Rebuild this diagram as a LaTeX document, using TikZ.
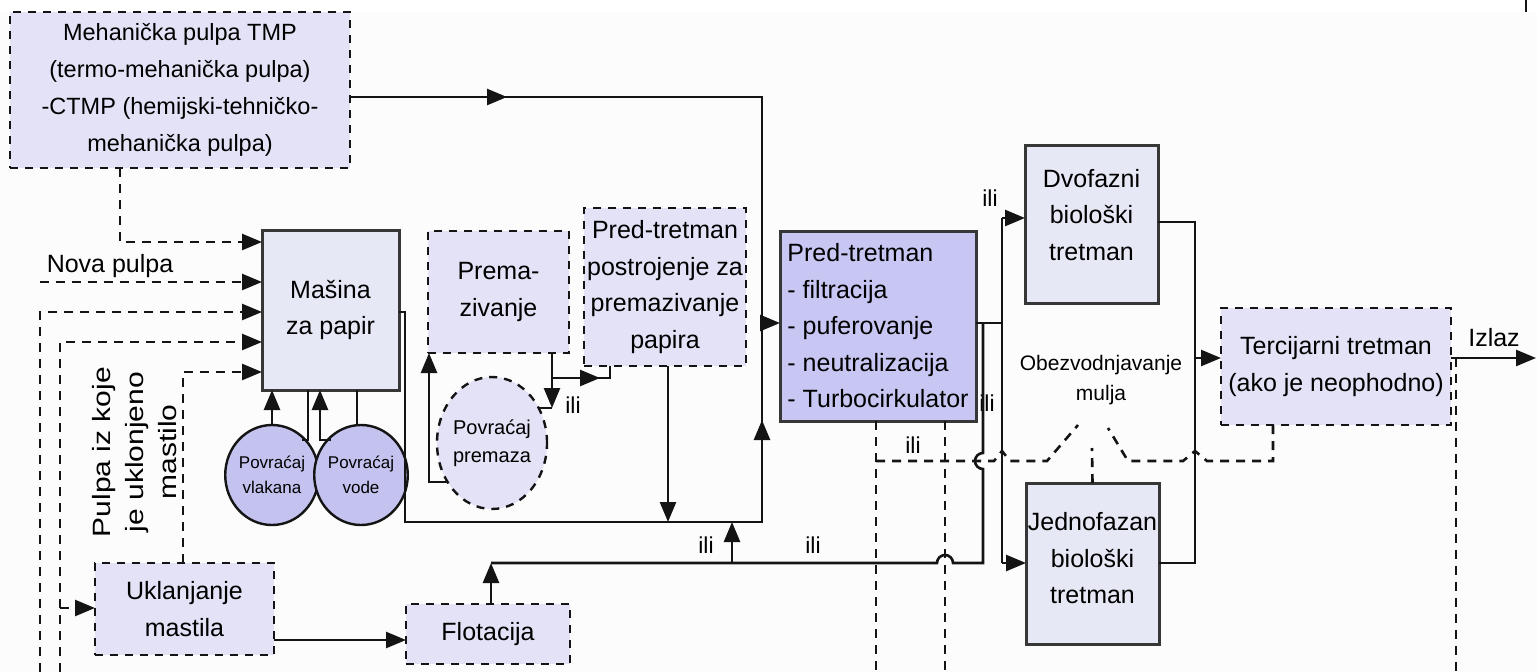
\documentclass[tikz,border=0pt]{standalone}
\usepackage{fontspec}
\setmainfont{Liberation Sans}
\newfontfamily\tallsans{Liberation Sans}[FakeStretch=1.2]
\usetikzlibrary{arrows.meta,shapes.geometric,decorations.markings}

\definecolor{lavlight}{HTML}{E3E2F6}
\definecolor{bluegray}{HTML}{E6E8F5}
\definecolor{lavmid}{HTML}{C8C7F3}
\definecolor{lavoval}{HTML}{C4C3F0}
\definecolor{ink}{HTML}{141414}
\definecolor{paper}{HTML}{FCFCFC}

\newcommand\txtL{\fontsize{25}{36.5}\selectfont}
\newcommand\txtT{\fontsize{23.5}{37}\selectfont}
\newcommand\txtM{\fontsize{21}{30}\selectfont}
\newcommand\txtS{\fontsize{17}{25}\selectfont}
\newcommand\txtP{\fontsize{20}{28}\selectfont}
\newcommand\txtI{\fontsize{23}{28}\selectfont}
\newcommand\txtR{\tallsans\fontsize{25}{33}\selectfont}

\tikzset{
  stagebox/.style={rectangle, inner sep=0pt, outer sep=0pt, align=center, font=\txtL},
  dbox/.style={stagebox, draw=ink, line width=2.8pt, dash pattern=on 8pt off 7pt, fill=lavlight},
  sbox/.style={stagebox, draw=ink!85, line width=3pt, fill=bluegray},
  oval/.style={ellipse, inner sep=0pt, outer sep=0pt, align=center, draw=ink, line width=2.4pt, fill=lavoval, font=\txtS},
  flow/.style={draw=ink, line width=2.6pt},
  dflow/.style={flow, dash pattern=on 9pt off 7pt},
  tipped/.style={-{Triangle[length=20pt,width=16pt]}},
  midtip/.style={postaction={decorate}, decoration={markings, mark=at position #1 with {\arrow{Triangle[length=20pt,width=16pt]}}}},
  orlabel/.style={font=\txtI, inner sep=0pt},
  raisedtext/.style={label={[font=\txtL, align=center, yshift=#1]center:}},
}

\begin{document}
\begin{tikzpicture}[x=1pt,y=-1pt]
\useasboundingbox (0,0) rectangle (1537,672);
\fill[white] (0,0) rectangle (1537,672);
\fill[paper] (0,12) rectangle (1537,672);
\draw[ink, line width=2pt] (1526,0) -- (1526,12);

% ---------- stages ----------
\node[dbox, minimum width=340pt, minimum height=156pt, font=\txtT] (tmp) at (180,90)
  {Mehanička pulpa TMP\\(termo-mehanička pulpa)\\-CTMP (hemijski-tehničko-\\mehanička pulpa)};
\node[sbox, minimum width=137pt, minimum height=160pt] (masina) at (330.5,310) {Mašina\\za papir};
\node[oval, minimum width=84pt, minimum height=100pt] (vlak) at (272,475) {Povraćaj\\vlakana};
\node[oval, minimum width=84pt, minimum height=100pt] (vode) at (361,475) {Povraćaj\\vode};
\node[dbox, minimum width=179pt, minimum height=92pt] (uklanj) at (184.5,609) {Uklanjanje\\mastila};
\node[dbox, minimum width=164pt, minimum height=60pt] (flot) at (488,634) {Flotacija};
\node[dbox, minimum width=141pt, minimum height=122pt] (premaz) at (498.5,292) {Prema-\\zivanje};
\node[dbox, minimum width=162pt, minimum height=158pt] (postr) at (665,287)
  {Pred-tretman\\postrojenje za\\premazivanje\\papira};
\node[ellipse, inner sep=0pt, outer sep=0pt, align=center, draw=ink, line width=2.4pt,
  dash pattern=on 8pt off 7pt, fill=lavlight, font=\txtP,
  minimum width=110pt, minimum height=132pt] (povprem) at (492,443) {Povraćaj\\premaza};
\node[sbox, fill=lavmid, align=left, minimum width=196pt, minimum height=190pt] (pred) at (878,326)
  {Pred-tretman\\- filtracija\\- puferovanje\\- neutralizacija\\- Turbocirkulator};
\node[sbox, minimum width=133pt, minimum height=158pt,
  label={[font=\txtL, align=center, yshift=9pt]center:Dvofazni\\biološki\\tretman}] (dvo) at (1091.5,224) {};
\node[sbox, minimum width=133pt, minimum height=161pt,
  label={[font=\txtL, align=center, yshift=5pt]center:Jednofazan\\biološki\\tretman}] (jedno) at (1092.5,563.5) {};
\node[dbox, minimum width=230pt, minimum height=117pt] (terc) at (1336,366.5)
  {Tercijarni tretman\\(ako je neophodno)};

% ---------- free labels ----------
\node[font=\txtL, inner sep=0pt] (nova) at (110,266) {Nova pulpa};
\node[font=\txtM, align=center, inner sep=0pt] (obez) at (1101,380) {Obezvodnjavanje\\mulja};
\node[font=\txtL, inner sep=0pt] (izlaz) at (1494,338) {Izlaz};
\node[font=\txtR, rotate=90, align=center, inner sep=0pt] (pulpa) at (135,452)
  {Pulpa iz koje\\je uklonjeno\\mastilo};
\node[orlabel] (ili1) at (573,405) {ili};
\node[orlabel] (ili2) at (706,545) {ili};
\node[orlabel] (ili3) at (813,545) {ili};
\node[orlabel] (ili4) at (913,445) {ili};
\node[orlabel] (ili5) at (987,403) {ili};
\node[orlabel] (ili6) at (990,198) {ili};

% ---------- junction points ----------
\coordinate (tr) at (762,97);
\coordinate (jin) at (762,323);
\coordinate (br) at (762,522);
\coordinate (bl) at (405,522);
\coordinate (ml) at (405,312);
\coordinate (pdrop) at (668,522);
\coordinate (fl) at (491,563);
\coordinate (ora) at (732,563);
\coordinate (orb) at (732,522);
\coordinate (rise) at (983,563);
\coordinate (split) at (1002,323);
\coordinate (dv) at (1002,218);
\coordinate (jd) at (1002,563);
\coordinate (dr) at (1195,222);
\coordinate (jr) at (1195,563);
\coordinate (tl) at (1195,358);
\coordinate (out) at (1536,358);
\coordinate (spill) at (1456,358);

% ---------- main solid flows ----------
\draw[flow, midtip=157pt] (tmp.east |- tr) -- (tr) -- (jin);
\draw[flow, tipped] (jin) -- (pred.west |- jin);
\draw[flow, midtip=675pt] (masina.east |- ml) -- (ml) -- (bl) -- (br) -- (jin);
\draw[flow, tipped] (postr.south -| pdrop) -- (pdrop);
\draw[flow, tipped] (flot.north -| fl) -- (fl);
\draw[flow] (fl) -- (937,563) arc[start angle=180, end angle=360, radius=8]
  -- (rise) -- (983,469) arc[start angle=90, end angle=270, radius=8] -- (983,323);
\draw[flow, tipped] (ora) -- (orb);
\draw[flow] (pred.east |- split) -- (split);
\draw[flow] (dv) -- (jd);
\draw[flow, tipped] (dv) -- (dvo.west |- dv);
\draw[flow, tipped] (jd) -- (jedno.west |- jd);
\draw[flow] (dvo.east |- dr) -- (dr) -- (jr) -- (jedno.east |- jr);
\draw[flow, tipped] (tl) -- (terc.west |- tl);
\draw[flow, tipped] (terc.east |- out) -- (out);

% ---------- paper machine recovery loops ----------
\draw[flow, tipped] (vlak.north) -- (masina.south -| vlak.north);
\coordinate (m308) at (308,440);
\draw[flow] (masina.south -| m308) -- (m308) -- (302,440);
\coordinate (v320) at (320,440);
\draw[flow, tipped] (331,440) -- (v320) -- (masina.south -| v320);
\coordinate (v357) at (357,425);
\draw[flow] (masina.south -| v357) -- (v357);

% ---------- coating loop ----------
\coordinate (pd) at (552,408);
\coordinate (pb) at (552,378);
\coordinate (pc) at (610,378);
\coordinate (pr) at (429,482);
\draw[flow, tipped] (premaz.south -| pd) -- (pd);
\draw[flow] (pd) -- (539,408);
\draw[flow, midtip=48pt] (pb) -- (pc) -- (postr.south -| pc);
\draw[flow, tipped] (448,482) -- (pr) -- (premaz.south -| pr);

% ---------- dashed pulp feeds ----------
\coordinate (c120) at (120,242);
\coordinate (nstart) at (40,282);
\coordinate (c40) at (40,312);
\coordinate (c60) at (60,342);
\coordinate (c60u) at (60,608);
\coordinate (c183) at (183,372);
\draw[dflow, tipped] (tmp.south -| c120) -- (c120) -- (masina.west |- c120);
\draw[dflow, tipped] (nstart) -- (masina.west |- nstart);
\draw[dflow, tipped] (40,672) -- (c40) -- (masina.west |- c40);
\draw[dflow, tipped] (60,672) -- (c60) -- (masina.west |- c60);
\draw[dflow, tipped] (c60u) -- (uklanj.west |- c60u);
\draw[dflow, tipped] (uklanj.north -| c183) -- (c183) -- (masina.west |- c183);
\draw[flow, tipped] (uklanj.east |- 0,640) -- (flot.west |- 0,640);

% ---------- dashed sludge lines ----------
\coordinate (s876) at (876,672);
\coordinate (s945) at (945,672);
\draw[dflow] (pred.south -| s876) -- (s876);
\draw[dflow] (pred.south -| s945) -- (s945);
\draw[dflow] (876,461) -- (994,461) -- (1002,451) -- (1010,461) -- (1047,461) -- (1078,425);
\draw[dflow] (terc.south -| 1273,0) -- (1273,461) -- (1207,461) -- (1195,451) -- (1183,461)
  -- (1128,461) -- (1108,428);
\draw[dflow] (jedno.north) -- (1092,448);
\draw[dflow] (spill) -- (1456,672);
\end{tikzpicture}
\end{document}
